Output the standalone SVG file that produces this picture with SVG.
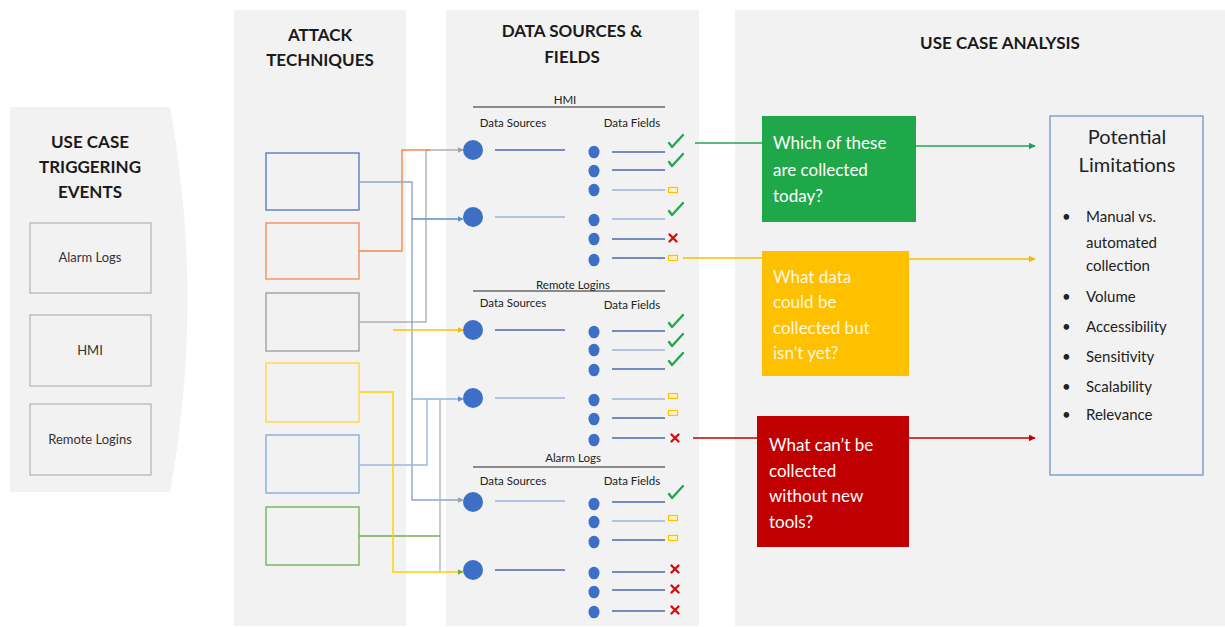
<svg xmlns="http://www.w3.org/2000/svg" xmlns:xlink="http://www.w3.org/1999/xlink" width="1225" height="627" viewBox="0 0 1225 627">
<style>
text{font-family:Lato,"Liberation Sans",sans-serif;fill:#1a1a1a}
.hd{font-size:17px;font-weight:bold;text-anchor:middle}
.lb{font-size:13px;text-anchor:middle;fill:#333}
.sm{font-size:11.5px;text-anchor:middle;fill:#222}
.q{font-size:17px;fill:#fff}
.pl{font-size:15px;fill:#222}
.panel{fill:#f2f2f2}
.ev{fill:#f2f2f2;stroke:#a6a6a6;stroke-width:1}
.at{fill:#f2f2f2;stroke-width:1.3}
.c{fill:none;stroke-width:1.4}
.dk{stroke:#4a6aa8;stroke-width:1.3}
.lt{stroke:#9db3dc;stroke-width:1.3}
.big{fill:#3d6fc6}
.rule{stroke:#222;stroke-width:1}
</style>
<defs>
<marker id="aGray" viewBox="0 0 10 10" refX="9" refY="5" markerWidth="6" markerHeight="6" orient="auto" markerUnits="userSpaceOnUse"><path d="M0,0 L10,5 L0,10 Z" fill="#a0a0a0"/></marker>
<marker id="aBlue" viewBox="0 0 10 10" refX="9" refY="5" markerWidth="6" markerHeight="6" orient="auto" markerUnits="userSpaceOnUse"><path d="M0,0 L10,5 L0,10 Z" fill="#5b8fc9"/></marker>
<marker id="aYel" viewBox="0 0 10 10" refX="9" refY="5" markerWidth="6" markerHeight="6" orient="auto" markerUnits="userSpaceOnUse"><path d="M0,0 L10,5 L0,10 Z" fill="#f5b800"/></marker>
<marker id="aGrn" viewBox="0 0 10 10" refX="9" refY="5" markerWidth="6" markerHeight="6" orient="auto" markerUnits="userSpaceOnUse"><path d="M0,0 L10,5 L0,10 Z" fill="#70ad47"/></marker>
<marker id="aG2" viewBox="0 0 10 10" refX="9" refY="5" markerWidth="7" markerHeight="7" orient="auto" markerUnits="userSpaceOnUse"><path d="M0,0 L10,5 L0,10 Z" fill="#1f9e5a"/></marker>
<marker id="aY2" viewBox="0 0 10 10" refX="9" refY="5" markerWidth="7" markerHeight="7" orient="auto" markerUnits="userSpaceOnUse"><path d="M0,0 L10,5 L0,10 Z" fill="#f5b800"/></marker>
<marker id="aR2" viewBox="0 0 10 10" refX="9" refY="5" markerWidth="7" markerHeight="7" orient="auto" markerUnits="userSpaceOnUse"><path d="M0,0 L10,5 L0,10 Z" fill="#c00000"/></marker>
<path id="chk" d="M-3,-4 L0,0 L11,-12" fill="none" stroke="#22a650" stroke-width="2.3" stroke-linecap="round" stroke-linejoin="round"/>
<path id="crs" d="M-3.5,-3.5 L3.5,3.5 M3.5,-3.5 L-3.5,3.5" fill="none" stroke="#d01010" stroke-width="2.4" stroke-linecap="round"/>
<rect id="bx" x="-4.5" y="-2.5" width="9" height="5" fill="#fff3c4" stroke="#ffc000" stroke-width="1.2"/>
<ellipse id="sd" rx="5.5" ry="6.3" fill="#3d6fc6"/>
</defs>

<!-- panels -->
<path id="panel-trigger" class="panel" d="M10,107 H170 Q205,300 170,492 H10 Z"/>
<rect id="panel-attack" class="panel" x="234" y="10" width="172" height="616"/>
<rect id="panel-data" class="panel" x="446" y="10" width="253" height="616"/>
<rect id="panel-usecase" class="panel" x="735" y="10" width="490" height="616"/>

<text class="hd" x="90" y="148">USE CASE</text>
<text class="hd" x="90" y="173">TRIGGERING</text>
<text class="hd" x="90" y="198">EVENTS</text>
<text class="hd" x="320" y="41">ATTACK</text>
<text class="hd" x="320" y="66">TECHNIQUES</text>
<text class="hd" x="572" y="37">DATA SOURCES &amp;</text>
<text class="hd" x="572" y="63">FIELDS</text>
<text class="hd" x="1000" y="49">USE CASE ANALYSIS</text>

<!-- triggering events -->
<g id="ev-alarm"><rect class="ev" x="30" y="223" width="121" height="70"/><text class="lb" x="90" y="262">Alarm Logs</text></g>
<g id="ev-hmi"><rect class="ev" x="30" y="315" width="121" height="71"/><text class="lb" x="90" y="355">HMI</text></g>
<g id="ev-remote"><rect class="ev" x="30" y="404" width="121" height="71"/><text class="lb" x="90" y="444">Remote Logins</text></g>

<!-- attack techniques -->
<g id="at1"><rect class="at" x="266" y="153" width="93" height="57" stroke="#4f74b8"/></g>
<g id="at2"><rect class="at" x="266" y="223" width="93" height="56" stroke="#ed8a4f"/></g>
<g id="at3"><rect class="at" x="266" y="293" width="93" height="58" stroke="#9a9a9a"/></g>
<g id="at4"><rect class="at" x="266" y="363" width="93" height="59" stroke="#ffd43b"/></g>
<g id="at5"><rect class="at" x="266" y="435" width="93" height="58" stroke="#7fa7d6"/></g>
<g id="at6"><rect class="at" x="266" y="507" width="93" height="58" stroke="#70ad47"/></g>

<!-- connectors -->
<g id="connectors">
<path class="c" d="M359,322 H426 V150 H463" stroke="#b0b0b0" marker-end="url(#aGray)"/>
<path class="c" d="M359,251 H402 V150 H430" stroke="#ed8a4f"/>
<path class="c" d="M359,182 H412 V500 H463" stroke="#8ea6c8" marker-end="url(#aGray)"/>
<path class="c" d="M412,219 H463" stroke="#5b8fc9" marker-end="url(#aBlue)"/>
<path class="c" d="M359,465 H427 V399" stroke="#9db8dc"/>
<path class="c" d="M412,399 H463" stroke="#8fb4dc" marker-end="url(#aBlue)"/>
<path class="c" d="M440,399 V572" stroke="#b5b5b5"/>
<path class="c" d="M359,536 H440" stroke="#70ad47"/>
<path class="c" d="M359,392 H393 V572 H463" stroke="#ffd000" stroke-width="1.8" marker-end="url(#aGrn)"/>
<path class="c" d="M393,330 H463" stroke="#ffc000" stroke-width="1.8" marker-end="url(#aYel)"/>
<path class="c" d="M695,143 H762" stroke="#22a650"/>
<path class="c" d="M916,146 H1035" stroke="#22a650" marker-end="url(#aG2)"/>
<path class="c" d="M683,258 H762" stroke="#f5c000"/>
<path class="c" d="M909,259 H1035" stroke="#f5c000" marker-end="url(#aY2)"/>
<path class="c" d="M693,438 H757" stroke="#c00000"/>
<path class="c" d="M909,438 H1035" stroke="#c00000" marker-end="url(#aR2)"/>
</g>

<!-- HMI data -->
<g id="ds-hmi">
<text class="sm" x="565" y="104">HMI</text>
<line class="rule" x1="473" y1="107" x2="665" y2="107"/>
<text class="sm" x="513" y="127">Data Sources</text>
<text class="sm" x="632" y="127">Data Fields</text>
<circle class="big" cx="473" cy="150" r="10"/><line class="dk" x1="495" y1="150" x2="565" y2="150"/>
<circle class="big" cx="473" cy="217" r="10"/><line class="lt" x1="495" y1="217" x2="565" y2="217"/>
<use href="#sd" x="594" y="152"/><line class="dk" x1="612" y1="152" x2="665" y2="152"/><use href="#chk" x="672" y="147"/>
<use href="#sd" x="594" y="171"/><line class="dk" x1="612" y1="170" x2="665" y2="170"/><use href="#chk" x="672" y="166"/>
<use href="#sd" x="594" y="190"/><line class="lt" x1="612" y1="190" x2="665" y2="190"/><use href="#bx" x="673" y="190"/>
<use href="#sd" x="594" y="220"/><line class="lt" x1="612" y1="219" x2="665" y2="219"/><use href="#chk" x="672" y="215"/>
<use href="#sd" x="594" y="239"/><line class="dk" x1="612" y1="239" x2="665" y2="239"/><use href="#crs" x="673" y="238"/>
<use href="#sd" x="594" y="260"/><line class="dk" x1="612" y1="258" x2="665" y2="258"/><use href="#bx" x="673" y="258"/>
</g>

<!-- Remote Logins data -->
<g id="ds-remote">
<text class="sm" x="573" y="289">Remote Logins</text>
<line class="rule" x1="473" y1="291" x2="665" y2="291"/>
<text class="sm" x="513" y="307">Data Sources</text>
<text class="sm" x="632" y="309">Data Fields</text>
<circle class="big" cx="473" cy="330" r="10"/><line class="dk" x1="495" y1="330" x2="565" y2="330"/>
<circle class="big" cx="473" cy="398" r="10"/><line class="lt" x1="495" y1="398" x2="565" y2="398"/>
<use href="#sd" x="594" y="332"/><line class="dk" x1="612" y1="331" x2="665" y2="331"/><use href="#chk" x="672" y="327"/>
<use href="#sd" x="594" y="350"/><line class="lt" x1="612" y1="350" x2="665" y2="350"/><use href="#chk" x="672" y="346"/>
<use href="#sd" x="594" y="370"/><line class="dk" x1="612" y1="369" x2="665" y2="369"/><use href="#chk" x="672" y="365"/>
<use href="#sd" x="594" y="400"/><line class="lt" x1="612" y1="399" x2="665" y2="399"/><use href="#bx" x="673" y="396"/>
<use href="#sd" x="594" y="419"/><line class="dk" x1="612" y1="418" x2="665" y2="418"/><use href="#bx" x="673" y="413"/>
<use href="#sd" x="594" y="440"/><line class="dk" x1="612" y1="438" x2="665" y2="438"/><use href="#crs" x="675" y="438"/>
</g>

<!-- Alarm Logs data -->
<g id="ds-alarm">
<text class="sm" x="573" y="462">Alarm Logs</text>
<line class="rule" x1="473" y1="467" x2="665" y2="467"/>
<text class="sm" x="513" y="485">Data Sources</text>
<text class="sm" x="632" y="485">Data Fields</text>
<circle class="big" cx="473" cy="502" r="10"/><line class="lt" x1="495" y1="501" x2="565" y2="501"/>
<circle class="big" cx="473" cy="570" r="10"/><line class="dk" x1="495" y1="570" x2="565" y2="570"/>
<use href="#sd" x="594" y="504"/><line class="dk" x1="612" y1="502" x2="665" y2="502"/><use href="#chk" x="672" y="498"/>
<use href="#sd" x="594" y="522"/><line class="lt" x1="612" y1="521" x2="665" y2="521"/><use href="#bx" x="673" y="518"/>
<use href="#sd" x="594" y="542"/><line class="dk" x1="612" y1="540" x2="665" y2="540"/><use href="#bx" x="673" y="538"/>
<use href="#sd" x="594" y="573"/><line class="dk" x1="612" y1="572" x2="665" y2="572"/><use href="#crs" x="675" y="569"/>
<use href="#sd" x="594" y="592"/><line class="dk" x1="612" y1="590" x2="665" y2="590"/><use href="#crs" x="675" y="589"/>
<use href="#sd" x="594" y="612"/><line class="dk" x1="612" y1="611" x2="665" y2="611"/><use href="#crs" x="675" y="610"/>
</g>

<!-- Use case analysis boxes -->
<g id="q-green"><rect x="762" y="116" width="154" height="106" fill="#1ea84a"/>
<text class="q" x="773" y="149">Which of these</text><text class="q" x="773" y="176">are collected</text><text class="q" x="773" y="202">today?</text></g>
<g id="q-yellow"><rect x="762" y="251" width="147" height="125" fill="#ffc000"/>
<text class="q" x="773" y="283" style="fill:#fff8e0">What data</text><text class="q" x="773" y="308" style="fill:#fff8e0">could be</text><text class="q" x="773" y="334" style="fill:#fff8e0">collected but</text><text class="q" x="773" y="359" style="fill:#fff8e0">isn’t yet?</text></g>
<g id="q-red"><rect x="757" y="416" width="152" height="131" fill="#c00000"/>
<text class="q" x="769" y="451">What can’t be</text><text class="q" x="769" y="477">collected</text><text class="q" x="769" y="502">without new</text><text class="q" x="769" y="528">tools?</text></g>

<g id="limitations"><rect x="1050" y="116" width="153" height="359" fill="#f2f2f2" stroke="#6a8cc4" stroke-width="1.2"/>
<text x="1127" y="144" style="font-size:20px;text-anchor:middle;fill:#222">Potential</text>
<text x="1127" y="172" style="font-size:20px;text-anchor:middle;fill:#222">Limitations</text>
<text class="pl" x="1062" y="222">•</text><text class="pl" x="1086" y="222">Manual vs.</text>
<text class="pl" x="1086" y="248">automated</text>
<text class="pl" x="1086" y="271">collection</text>
<text class="pl" x="1062" y="302">•</text><text class="pl" x="1086" y="302">Volume</text>
<text class="pl" x="1062" y="332">•</text><text class="pl" x="1086" y="332">Accessibility</text>
<text class="pl" x="1062" y="362">•</text><text class="pl" x="1086" y="362">Sensitivity</text>
<text class="pl" x="1062" y="392">•</text><text class="pl" x="1086" y="392">Scalability</text>
<text class="pl" x="1062" y="420">•</text><text class="pl" x="1086" y="420">Relevance</text>
</g>
</svg>
